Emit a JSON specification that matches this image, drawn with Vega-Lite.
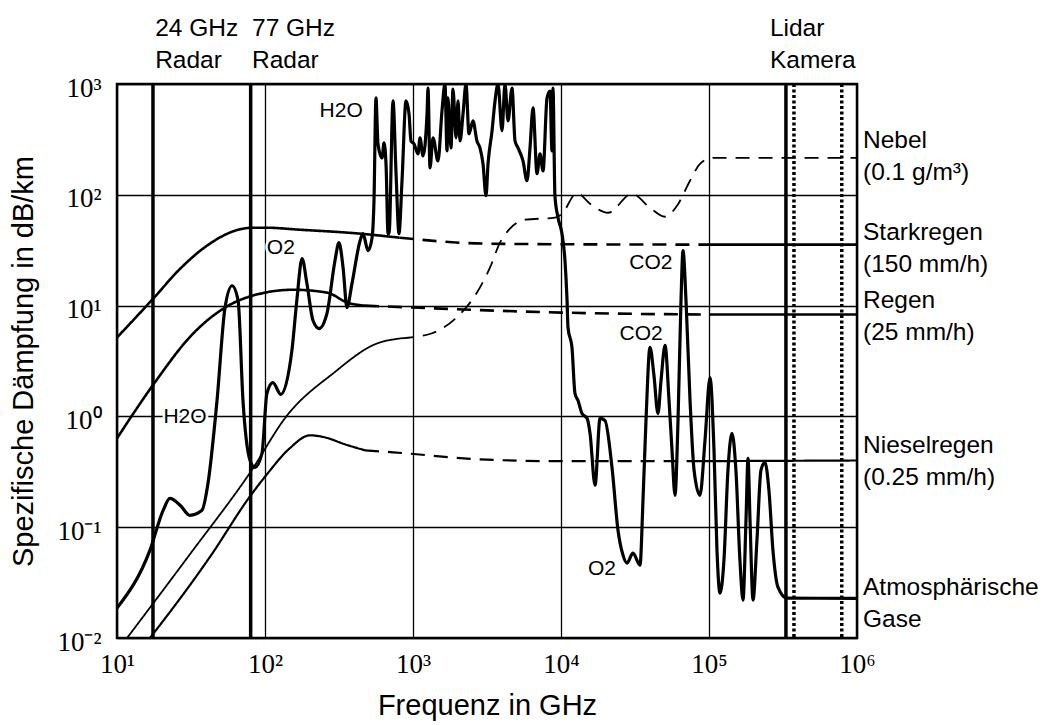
{
  "$schema": "https://vega.github.io/schema/vega-lite/v6.json",
  "width": 740,
  "height": 554,
  "autosize": {"type": "none"},
  "padding": {"left": 117, "top": 84, "right": 194, "bottom": 87},
  "background": "white",
  "config": {
    "view": {"stroke": "black", "strokeWidth": 2.5},
    "font": "Liberation Sans",
    "axis": {
      "grid": true, "gridColor": "black", "gridWidth": 1.3, "gridOpacity": 1,
      "ticks": false, "tickSize": 0, "domain": false,
      "labelFont": "Liberation Serif", "labelFontSize": 27, "labelColor": "black",
      "labelFlush": false, "labelOverlap": false,
      "titleFont": "Liberation Sans", "titleFontSize": 29, "titleFontWeight": "normal", "titleColor": "black"
    }
  },
  "datasets": {
    "regen": [
      {"kurve": "Starkregen", "abschnitt": "S1", "verlauf": "gemessen", "f": 10, "a": 5.15},
      {"kurve": "Starkregen", "abschnitt": "S1", "verlauf": "gemessen", "f": 17.8, "a": 11.8},
      {"kurve": "Starkregen", "abschnitt": "S1", "verlauf": "gemessen", "f": 26.7, "a": 21.5},
      {"kurve": "Starkregen", "abschnitt": "S1", "verlauf": "gemessen", "f": 42.5, "a": 36.3},
      {"kurve": "Starkregen", "abschnitt": "S1", "verlauf": "gemessen", "f": 62.7, "a": 47.4},
      {"kurve": "Starkregen", "abschnitt": "S1", "verlauf": "gemessen", "f": 83, "a": 50.5},
      {"kurve": "Starkregen", "abschnitt": "S1", "verlauf": "gemessen", "f": 100, "a": 50.5},
      {"kurve": "Starkregen", "abschnitt": "S1", "verlauf": "gemessen", "f": 172, "a": 48.4},
      {"kurve": "Starkregen", "abschnitt": "S1", "verlauf": "gemessen", "f": 439, "a": 44.6},
      {"kurve": "Starkregen", "abschnitt": "S1", "verlauf": "gemessen", "f": 812, "a": 41.0},
      {"kurve": "Starkregen", "abschnitt": "S2", "verlauf": "extrapoliert", "f": 812, "a": 41.0},
      {"kurve": "Starkregen", "abschnitt": "S2", "verlauf": "extrapoliert", "f": 2972, "a": 36.3},
      {"kurve": "Starkregen", "abschnitt": "S2", "verlauf": "extrapoliert", "f": 10000, "a": 35.8},
      {"kurve": "Starkregen", "abschnitt": "S2", "verlauf": "extrapoliert", "f": 100000, "a": 35.5},
      {"kurve": "Starkregen", "abschnitt": "S3", "verlauf": "gemessen", "f": 100000, "a": 35.5},
      {"kurve": "Starkregen", "abschnitt": "S3", "verlauf": "gemessen", "f": 1000000, "a": 35.5},
      {"kurve": "Regen", "abschnitt": "R1", "verlauf": "gemessen", "f": 10, "a": 0.634},
      {"kurve": "Regen", "abschnitt": "R1", "verlauf": "gemessen", "f": 17.8, "a": 1.98},
      {"kurve": "Regen", "abschnitt": "R1", "verlauf": "gemessen", "f": 32.7, "a": 5.6},
      {"kurve": "Regen", "abschnitt": "R1", "verlauf": "gemessen", "f": 53.7, "a": 9.6},
      {"kurve": "Regen", "abschnitt": "R1", "verlauf": "gemessen", "f": 92.5, "a": 12.8},
      {"kurve": "Regen", "abschnitt": "R1", "verlauf": "gemessen", "f": 154.5, "a": 13.9},
      {"kurve": "Regen", "abschnitt": "R1", "verlauf": "gemessen", "f": 262, "a": 13.1},
      {"kurve": "Regen", "abschnitt": "R1", "verlauf": "gemessen", "f": 364, "a": 10.6},
      {"kurve": "Regen", "abschnitt": "R1", "verlauf": "gemessen", "f": 474, "a": 10.0},
      {"kurve": "Regen", "abschnitt": "R2", "verlauf": "extrapoliert", "f": 474, "a": 10.0},
      {"kurve": "Regen", "abschnitt": "R2", "verlauf": "extrapoliert", "f": 1000, "a": 9.6},
      {"kurve": "Regen", "abschnitt": "R2", "verlauf": "extrapoliert", "f": 10000, "a": 8.65},
      {"kurve": "Regen", "abschnitt": "R2", "verlauf": "extrapoliert", "f": 100000, "a": 8.3},
      {"kurve": "Regen", "abschnitt": "R3", "verlauf": "gemessen", "f": 100000, "a": 8.3},
      {"kurve": "Regen", "abschnitt": "R3", "verlauf": "gemessen", "f": 1000000, "a": 8.3}
    ],
    "niesel": [
      {"kurve": "Nieselregen", "abschnitt": "N1", "verlauf": "gemessen", "f": 16.7, "a": 0.01},
      {"kurve": "Nieselregen", "abschnitt": "N1", "verlauf": "gemessen", "f": 31.1, "a": 0.030},
      {"kurve": "Nieselregen", "abschnitt": "N1", "verlauf": "gemessen", "f": 42.5, "a": 0.054},
      {"kurve": "Nieselregen", "abschnitt": "N1", "verlauf": "gemessen", "f": 79.2, "a": 0.19},
      {"kurve": "Nieselregen", "abschnitt": "N1", "verlauf": "gemessen", "f": 103, "a": 0.30},
      {"kurve": "Nieselregen", "abschnitt": "N1", "verlauf": "gemessen", "f": 148, "a": 0.52},
      {"kurve": "Nieselregen", "abschnitt": "N1", "verlauf": "gemessen", "f": 201, "a": 0.675},
      {"kurve": "Nieselregen", "abschnitt": "N1", "verlauf": "gemessen", "f": 254, "a": 0.647},
      {"kurve": "Nieselregen", "abschnitt": "N1", "verlauf": "gemessen", "f": 347, "a": 0.56},
      {"kurve": "Nieselregen", "abschnitt": "N1", "verlauf": "gemessen", "f": 474, "a": 0.494},
      {"kurve": "Nieselregen", "abschnitt": "N2", "verlauf": "extrapoliert", "f": 474, "a": 0.494},
      {"kurve": "Nieselregen", "abschnitt": "N2", "verlauf": "extrapoliert", "f": 733, "a": 0.474},
      {"kurve": "Nieselregen", "abschnitt": "N2", "verlauf": "extrapoliert", "f": 2835, "a": 0.41},
      {"kurve": "Nieselregen", "abschnitt": "N2", "verlauf": "extrapoliert", "f": 10000, "a": 0.394},
      {"kurve": "Nieselregen", "abschnitt": "N2", "verlauf": "extrapoliert", "f": 79400, "a": 0.394},
      {"kurve": "Nieselregen", "abschnitt": "N3", "verlauf": "gemessen", "f": 79400, "a": 0.394},
      {"kurve": "Nieselregen", "abschnitt": "N3", "verlauf": "gemessen", "f": 1000000, "a": 0.40}
    ],
    "nebel": [
      {"kurve": "Nebel", "abschnitt": "F1", "verlauf": "gemessen", "f": 11.7, "a": 0.01},
      {"kurve": "Nebel", "abschnitt": "F1", "verlauf": "gemessen", "f": 31.1, "a": 0.057},
      {"kurve": "Nebel", "abschnitt": "F1", "verlauf": "gemessen", "f": 79.2, "a": 0.31},
      {"kurve": "Nebel", "abschnitt": "F1", "verlauf": "gemessen", "f": 141, "a": 1.02},
      {"kurve": "Nebel", "abschnitt": "F1", "verlauf": "gemessen", "f": 288, "a": 2.44},
      {"kurve": "Nebel", "abschnitt": "F1", "verlauf": "gemessen", "f": 571, "a": 4.55},
      {"kurve": "Nebel", "abschnitt": "F1", "verlauf": "gemessen", "f": 817, "a": 5.05},
      {"kurve": "Nebel", "abschnitt": "F2", "verlauf": "extrapoliert", "f": 817, "a": 5.05},
      {"kurve": "Nebel", "abschnitt": "F2", "verlauf": "extrapoliert", "f": 1330, "a": 5.6},
      {"kurve": "Nebel", "abschnitt": "F2", "verlauf": "extrapoliert", "f": 1923, "a": 7.6},
      {"kurve": "Nebel", "abschnitt": "F2", "verlauf": "extrapoliert", "f": 2624, "a": 12.3},
      {"kurve": "Nebel", "abschnitt": "F2", "verlauf": "extrapoliert", "f": 3311, "a": 22},
      {"kurve": "Nebel", "abschnitt": "F2", "verlauf": "extrapoliert", "f": 3870, "a": 37},
      {"kurve": "Nebel", "abschnitt": "F2", "verlauf": "extrapoliert", "f": 4519, "a": 49.4},
      {"kurve": "Nebel", "abschnitt": "F2", "verlauf": "extrapoliert", "f": 5715, "a": 59.6},
      {"kurve": "Nebel", "abschnitt": "F2", "verlauf": "extrapoliert", "f": 9100, "a": 62.1},
      {"kurve": "Nebel", "abschnitt": "F2", "verlauf": "extrapoliert", "f": 10160, "a": 67.5},
      {"kurve": "Nebel", "abschnitt": "F2", "verlauf": "extrapoliert", "f": 12820, "a": 104},
      {"kurve": "Nebel", "abschnitt": "F2", "verlauf": "extrapoliert", "f": 15710, "a": 83},
      {"kurve": "Nebel", "abschnitt": "F2", "verlauf": "extrapoliert", "f": 20800, "a": 68.9},
      {"kurve": "Nebel", "abschnitt": "F2", "verlauf": "extrapoliert", "f": 30200, "a": 102},
      {"kurve": "Nebel", "abschnitt": "F2", "verlauf": "extrapoliert", "f": 39930, "a": 76.4},
      {"kurve": "Nebel", "abschnitt": "F2", "verlauf": "extrapoliert", "f": 50460, "a": 63.4},
      {"kurve": "Nebel", "abschnitt": "F2", "verlauf": "extrapoliert", "f": 60800, "a": 79.6},
      {"kurve": "Nebel", "abschnitt": "F2", "verlauf": "extrapoliert", "f": 74450, "a": 134},
      {"kurve": "Nebel", "abschnitt": "F2", "verlauf": "extrapoliert", "f": 86900, "a": 190},
      {"kurve": "Nebel", "abschnitt": "F2", "verlauf": "extrapoliert", "f": 105000, "a": 215},
      {"kurve": "Nebel", "abschnitt": "F2", "verlauf": "extrapoliert", "f": 1000000, "a": 215}
    ],
    "gase": [
      {"f": 10, "a": 0.0186}, {"f": 16.7, "a": 0.0621}, {"f": 20.5, "a": 0.142}, {"f": 22.8, "a": 0.182},
      {"f": 26.7, "a": 0.158}, {"f": 31.1, "a": 0.128}, {"f": 37.5, "a": 0.142}, {"f": 41.2, "a": 0.249},
      {"f": 47.4, "a": 1.39}, {"f": 53.7, "a": 9.6}, {"f": 59.9, "a": 15.1}, {"f": 65.8, "a": 11.1},
      {"f": 71, "a": 1.39}, {"f": 79.2, "a": 0.402}, {"f": 85.5, "a": 0.347}, {"f": 95.4, "a": 0.464},
      {"f": 103, "a": 1.61}, {"f": 113, "a": 2.02}, {"f": 128, "a": 1.58}, {"f": 152, "a": 3.94},
      {"f": 164, "a": 11.1}, {"f": 178, "a": 26.5}, {"f": 192, "a": 15.8}, {"f": 211, "a": 7.33},
      {"f": 232, "a": 6.21}, {"f": 262, "a": 8.47}, {"f": 297, "a": 25.4}, {"f": 316, "a": 37},
      {"f": 337, "a": 22}, {"f": 358, "a": 9.6}, {"f": 387, "a": 15.8}, {"f": 439, "a": 38.5},
      {"f": 459, "a": 44.6}, {"f": 497, "a": 31.3}, {"f": 529, "a": 41}, {"f": 545, "a": 88.3},
      {"f": 562, "a": 748}, {"f": 580, "a": 288}, {"f": 618, "a": 215}, {"f": 637, "a": 294},
      {"f": 658, "a": 182}, {"f": 678, "a": 44.6}, {"f": 689, "a": 44.6}, {"f": 733, "a": 703},
      {"f": 767, "a": 164}, {"f": 804, "a": 44.6}, {"f": 843, "a": 134}, {"f": 897, "a": 703},
      {"f": 940, "a": 537}, {"f": 969, "a": 306}, {"f": 1016, "a": 288}, {"f": 1081, "a": 234},
      {"f": 1115, "a": 327}, {"f": 1168, "a": 225}, {"f": 1244, "a": 537}, {"f": 1263, "a": 920},
      {"f": 1303, "a": 175}, {"f": 1365, "a": 327}, {"f": 1475, "a": 202}, {"f": 1570, "a": 571},
      {"f": 1644, "a": 1000}, {"f": 1698, "a": 249}, {"f": 1722, "a": 748}, {"f": 1806, "a": 265},
      {"f": 1862, "a": 901}, {"f": 1953, "a": 327}, {"f": 2015, "a": 703}, {"f": 2078, "a": 306},
      {"f": 2178, "a": 537}, {"f": 2281, "a": 1000}, {"f": 2389, "a": 355}, {"f": 2542, "a": 464},
      {"f": 2705, "a": 306}, {"f": 2835, "a": 265}, {"f": 2972, "a": 190}, {"f": 3113, "a": 98},
      {"f": 3213, "a": 190}, {"f": 3420, "a": 378}, {"f": 3583, "a": 703}, {"f": 3753, "a": 1000},
      {"f": 3993, "a": 378}, {"f": 4185, "a": 1000}, {"f": 4385, "a": 464}, {"f": 4667, "a": 920},
      {"f": 4890, "a": 306}, {"f": 5123, "a": 265}, {"f": 5537, "a": 202}, {"f": 5893, "a": 134},
      {"f": 6175, "a": 265}, {"f": 6471, "a": 608}, {"f": 6887, "a": 155}, {"f": 7216, "a": 234},
      {"f": 7562, "a": 164}, {"f": 8043, "a": 748}, {"f": 8427, "a": 865}, {"f": 8690, "a": 249},
      {"f": 8830, "a": 920}, {"f": 9100, "a": 98}, {"f": 9550, "a": 62.1}, {"f": 10160, "a": 44.6},
      {"f": 10640, "a": 25.4}, {"f": 10990, "a": 11.1}, {"f": 11150, "a": 6.34}, {"f": 11860, "a": 4.19},
      {"f": 12430, "a": 1.61}, {"f": 13030, "a": 1.39}, {"f": 13870, "a": 1.06}, {"f": 15000, "a": 0.96},
      {"f": 15710, "a": 0.703}, {"f": 16980, "a": 0.239}, {"f": 18360, "a": 0.96}, {"f": 19820, "a": 0.92},
      {"f": 22110, "a": 0.347}, {"f": 24270, "a": 0.094}, {"f": 26240, "a": 0.056}, {"f": 27920, "a": 0.0474},
      {"f": 30630, "a": 0.0583}, {"f": 34190, "a": 0.0455}, {"f": 35810, "a": 0.175}, {"f": 37520, "a": 0.92},
      {"f": 39930, "a": 4.19}, {"f": 42480, "a": 2.34}, {"f": 45200, "a": 1.06}, {"f": 47410, "a": 2.11},
      {"f": 50460, "a": 4.37}, {"f": 53700, "a": 1.39}, {"f": 56250, "a": 0.494}, {"f": 58930, "a": 0.194},
      {"f": 61750, "a": 0.92}, {"f": 64680, "a": 11.1}, {"f": 66740, "a": 31.3}, {"f": 69930, "a": 11.1},
      {"f": 74450, "a": 1.39}, {"f": 79260, "a": 0.327}, {"f": 86900, "a": 0.194}, {"f": 93970, "a": 0.608},
      {"f": 101600, "a": 2.24}, {"f": 108100, "a": 0.494}, {"f": 113200, "a": 0.0621}, {"f": 118600, "a": 0.0254},
      {"f": 126200, "a": 0.0505}, {"f": 134300, "a": 0.327}, {"f": 142900, "a": 0.703}, {"f": 152000, "a": 0.327},
      {"f": 161800, "a": 0.0505}, {"f": 169700, "a": 0.022}, {"f": 177800, "a": 0.116}, {"f": 183500, "a": 0.419},
      {"f": 189300, "a": 0.116}, {"f": 198300, "a": 0.022}, {"f": 210900, "a": 0.0764}, {"f": 224400, "a": 0.327},
      {"f": 238800, "a": 0.385}, {"f": 254100, "a": 0.215}, {"f": 270400, "a": 0.0621}, {"f": 292300, "a": 0.0288},
      {"f": 336500, "a": 0.0229}, {"f": 1000000, "a": 0.0228}
    ],
    "sensoren": [
      {"sensor": "24 GHz Radar", "art": "Linie", "f": 17.5},
      {"sensor": "77 GHz Radar", "art": "Linie", "f": 80},
      {"sensor": "Lidar", "art": "Linie", "f": 331000},
      {"sensor": "Kamera (780 nm)", "art": "Bereich", "f": 375000},
      {"sensor": "Kamera (380 nm)", "art": "Bereich", "f": 789000}
    ],
    "oben": [
      {"text": "24 GHz\nRadar", "f": 18.1},
      {"text": "77 GHz\nRadar", "f": 81.7},
      {"text": "Lidar\nKamera", "f": 258000}
    ],
    "rechts": [
      {"text": "Nebel\n(0.1 g/m³)", "a": 303},
      {"text": "Starkregen\n(150 mm/h)", "a": 44.8},
      {"text": "Regen\n(25 mm/h)", "a": 11.1},
      {"text": "Nieselregen\n(0.25 mm/h)", "a": 0.535},
      {"text": "Atmosphärische\nGase", "a": 0.028}
    ],
    "innen": [
      {"text": "H2O", "f": 327, "a": 572},
      {"text": "O2", "f": 128, "a": 33.3},
      {"text": "H2O", "f": 28.8, "a": 0.98},
      {"text": "CO2", "f": 40500, "a": 24.4},
      {"text": "CO2", "f": 34800, "a": 5.6},
      {"text": "O2", "f": 18900, "a": 0.0419}
    ]
  },
  "layer": [
    {
      "data": {"name": "nebel"},
      "mark": {"type": "line", "interpolate": "monotone", "clip": true, "color": "black", "strokeWidth": 1.8},
      "encoding": {
        "x": {
          "field": "f", "type": "quantitative",
          "scale": {"type": "log", "domain": [10, 1000000], "nice": false},
          "axis": {
            "values": [10, 100, 1000, 10000, 100000, 1000000],
            "labelPadding": 13,
            "labelExpr": "datum.value < 50 ? '10¹' : datum.value < 500 ? '10²' : datum.value < 5000 ? '10³' : datum.value < 50000 ? '10⁴' : datum.value < 500000 ? '10⁵' : '10⁶'",
            "title": "Frequenz in GHz", "titlePadding": 14
          }
        },
        "y": {
          "field": "a", "type": "quantitative",
          "scale": {"type": "log", "domain": [0.01, 1000], "nice": false},
          "axis": {
            "values": [0.01, 0.1, 1, 10, 100, 1000],
            "labelPadding": 16, "labelOffset": 4,
            "labelExpr": "datum.value < 0.05 ? '10⁻²' : datum.value < 0.5 ? '10⁻¹' : datum.value < 5 ? '10⁰' : datum.value < 50 ? '10¹' : datum.value < 500 ? '10²' : '10³'",
            "title": "Spezifische Dämpfung in dB/km", "titlePadding": 18
          }
        },
        "detail": {"field": "abschnitt"},
        "strokeDash": {"field": "verlauf", "type": "nominal", "scale": {"domain": ["gemessen", "extrapoliert"], "range": [[1, 0], [14, 9]]}, "legend": null}
      }
    },
    {
      "data": {"name": "niesel"},
      "mark": {"type": "line", "interpolate": "monotone", "clip": true, "color": "black", "strokeWidth": 2.2},
      "encoding": {
        "x": {"field": "f", "type": "quantitative", "title": "Frequenz in GHz"},
        "y": {"field": "a", "type": "quantitative", "title": "Spezifische Dämpfung in dB/km"},
        "detail": {"field": "abschnitt"},
        "strokeDash": {"field": "verlauf", "type": "nominal", "legend": null}
      }
    },
    {
      "data": {"name": "regen"},
      "mark": {"type": "line", "interpolate": "monotone", "clip": true, "color": "black", "strokeWidth": 2.6},
      "encoding": {
        "x": {"field": "f", "type": "quantitative", "title": "Frequenz in GHz"},
        "y": {"field": "a", "type": "quantitative", "title": "Spezifische Dämpfung in dB/km"},
        "detail": {"field": "abschnitt"},
        "strokeDash": {"field": "verlauf", "type": "nominal", "legend": null}
      }
    },
    {
      "data": {"name": "sensoren"},
      "transform": [{"filter": "datum.art == 'Linie'"}],
      "mark": {"type": "rule", "color": "black", "strokeWidth": 3.5},
      "encoding": {
        "x": {"field": "f", "type": "quantitative", "title": "Frequenz in GHz"}
      }
    },
    {
      "data": {"name": "sensoren"},
      "transform": [{"filter": "datum.art == 'Bereich'"}],
      "mark": {"type": "rule", "color": "black", "strokeWidth": 3.5, "strokeDash": [3, 2.5]},
      "encoding": {
        "x": {"field": "f", "type": "quantitative", "title": "Frequenz in GHz"}
      }
    },
    {
      "data": {"name": "gase"},
      "mark": {"type": "line", "interpolate": "monotone", "clip": true, "color": "black", "strokeWidth": 3.2},
      "encoding": {
        "x": {"field": "f", "type": "quantitative", "title": "Frequenz in GHz"},
        "y": {"field": "a", "type": "quantitative", "title": "Spezifische Dämpfung in dB/km"}
      }
    },
    {
      "data": {"name": "innen"},
      "mark": {"type": "text", "align": "center", "baseline": "middle", "font": "Liberation Sans", "fontSize": 21, "color": "white", "stroke": "white", "strokeWidth": 5},
      "encoding": {
        "x": {"field": "f", "type": "quantitative", "title": "Frequenz in GHz"},
        "y": {"field": "a", "type": "quantitative", "title": "Spezifische Dämpfung in dB/km"},
        "text": {"field": "text"}
      }
    },
    {
      "data": {"name": "innen"},
      "mark": {"type": "text", "align": "center", "baseline": "middle", "font": "Liberation Sans", "fontSize": 21, "color": "black"},
      "encoding": {
        "x": {"field": "f", "type": "quantitative", "title": "Frequenz in GHz"},
        "y": {"field": "a", "type": "quantitative", "title": "Spezifische Dämpfung in dB/km"},
        "text": {"field": "text"}
      }
    },
    {
      "data": {"name": "oben"},
      "mark": {"type": "text", "align": "left", "baseline": "middle", "font": "Liberation Sans", "fontSize": 24.5, "color": "black", "lineBreak": "\n", "lineHeight": 32},
      "encoding": {
        "x": {"field": "f", "type": "quantitative", "title": "Frequenz in GHz"},
        "y": {"datum": 3133, "type": "quantitative", "title": "Spezifische Dämpfung in dB/km"},
        "text": {"field": "text"}
      }
    },
    {
      "data": {"name": "rechts"},
      "mark": {"type": "text", "align": "left", "baseline": "middle", "dx": 6, "font": "Liberation Sans", "fontSize": 24.5, "color": "black", "lineBreak": "\n", "lineHeight": 32},
      "encoding": {
        "x": {"datum": 1000000, "type": "quantitative", "title": "Frequenz in GHz"},
        "y": {"field": "a", "type": "quantitative", "title": "Spezifische Dämpfung in dB/km"},
        "text": {"field": "text"}
      }
    }
  ]
}
